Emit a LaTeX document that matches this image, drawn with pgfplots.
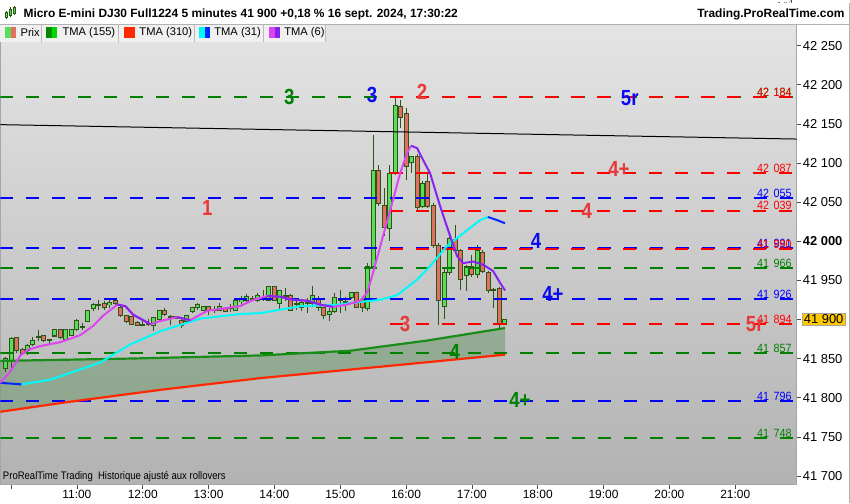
\documentclass[border=0pt]{standalone}
\usepackage{pgfplots}
\pgfplotsset{compat=1.18}
\usepackage{pgfplotstable}
\usepackage{fontspec}
\setmainfont{Liberation Sans}

\definecolor{bgtop}{RGB}{228,228,228}
\definecolor{bgbot}{RGB}{178,178,178}
\definecolor{wick}{RGB}{45,85,20}
\definecolor{upc}{RGB}{88,222,88}
\definecolor{dnc}{RGB}{226,112,98}
\definecolor{lvred}{RGB}{255,0,0}
\definecolor{lvblue}{RGB}{0,0,255}
\definecolor{lvgreen}{RGB}{0,128,0}
\definecolor{lbred}{RGB}{232,56,56}
\definecolor{lbblue}{RGB}{10,10,240}
\definecolor{tma155}{RGB}{25,140,25}
\definecolor{tma310}{RGB}{255,40,0}
\definecolor{tmacyan}{RGB}{0,250,250}
\definecolor{tmablue}{RGB}{0,40,255}
\definecolor{tmamag}{RGB}{220,70,240}
\definecolor{tmapur}{RGB}{136,34,238}
\definecolor{pricebox}{RGB}{255,200,0}
\definecolor{band}{RGB}{0,105,0}

\newcommand{\fs}[1]{\fontsize{#1}{#1}\selectfont}
\newcommand{\pl}[2]{\scalebox{0.9}[1]{#1\hspace{5bp}#2}}

% 5-minute bars, t in minutes after midnight
\pgfplotstableread{
t o h l c
595 41838 41852 41833 41850
600 41848 41877 41836 41875
605 41877 41878 41857 41860
610 41861 41864 41855 41857
615 41860 41868 41854 41866
620 41868 41877 41866 41873
625 41877 41886 41873 41878
630 41879 41880 41871 41873
635 41874 41875 41868 41874
640 41879 41888 41878 41887
645 41887 41888 41875 41877
650 41874 41888 41873 41887
655 41880 41888 41879 41887
660 41887 41900 41885 41898
665 41891 41896 41887 41890
670 41898 41912 41897 41911
675 41914 41921 41911 41919
680 41919 41925 41912 41918
685 41920 41924 41912 41916
690 41919 41926 41915 41921
695 41924 41928 41919 41920
700 41915 41919 41903 41905
705 41905 41906 41896 41897
710 41903 41905 41893 41894
715 41896 41898 41891 41893
720 41893 41900 41891 41892
725 41894 41900 41891 41895
730 41893 41903 41885 41902
735 41900 41912 41898 41911
740 41912 41915 41905 41906
745 41903 41906 41893 41904
750 41903 41905 41900 41902
755 41898 41901 41889 41893
760 41898 41906 41897 41905
765 41910 41916 41908 41915
770 41915 41921 41912 41919
775 41912 41917 41911 41916
780 41916 41917 41906 41912
785 41912 41917 41908 41913
790 41912 41921 41911 41916
795 41914 41915 41910 41911
800 41915 41920 41910 41914
805 41912 41925 41911 41924
810 41923 41930 41919 41925
815 41924 41933 41921 41929
820 41926 41930 41924 41927
825 41924 41934 41922 41930
830 41928 41938 41924 41927
835 41925 41943 41924 41942
840 41942 41943 41924 41925
845 41921 41938 41912 41937
850 41930 41940 41924 41931
855 41931 41933 41911 41912
860 41920 41924 41912 41919
865 41916 41926 41911 41921
870 41920 41928 41908 41921
875 41921 41943 41916 41931
880 41926 41930 41911 41915
885 41915 41916 41900 41905
890 41906 41915 41898 41910
895 41911 41934 41908 41928
900 41925 41938 41908 41926
905 41923 41929 41911 41922
910 41928 41935 41926 41934
915 41934 41935 41914 41915
920 41925 41926 41910 41915
925 41914 41972 41911 41968
930 41968 42136 41961 42090
935 42090 42097 42045 42048
940 42046 42068 42007 42018
945 42016 42097 42000 42087
950 42087 42184 42085 42173
955 42172 42180 42145 42158
960 42163 42170 42078 42096
965 42101 42109 42087 42108
970 42108 42112 42040 42043
975 42045 42077 42043 42074
980 42076 42087 42043 42044
985 42046 42049 41991 41995
990 41995 41998 41893 41925
995 41917 41966 41900 41960
1000 41960 42007 41957 42003
1005 42002 42021 41985 41988
1010 41988 41990 41938 41951
1015 41956 41970 41937 41967
1020 41967 41983 41954 41957
1025 41957 41995 41953 41988
1030 41985 41989 41960 41962
1035 41960 41962 41934 41937
1040 41938 41940 41915 41937
1045 41939 41942 41889 41894
1050 41894 41901 41893 41900
}\candles

\begin{document}
\begin{tikzpicture}
\fill[white] (0,-18bp) rectangle (850bp,482bp);
\begin{axis}[
    at={(0,0)}, anchor=south west,
    scale only axis, width=797bp, height=461bp,
    xmin=590.3, xmax=1316, ymin=41688.8, ymax=42277.5,
    axis background/.style={top color=bgtop, bottom color=bgbot},
    axis line style={draw=gray!70, line width=0.8bp},
    xtick={600,660,720,780,840,900,960,1020,1080,1140,1200,1260},
    xticklabels={,11:00,12:00,13:00,14:00,15:00,16:00,17:00,18:00,19:00,20:00,21:00},
    ytick={41700,41750,41800,41850,41900,41950,42000,42050,42100,42150,42200,42250},
    yticklabels={41 700,41 750,41 800,41 850,41 900,41 950,\textbf{42 000},42 050,42 100,42 150,42 200,42 250},
    xtick pos=left, ytick pos=right, yticklabel pos=right,
    tick align=outside, major tick length=4bp,
    tick style={draw=black!70, line width=0.6bp},
    xticklabel style={font=\fs{12}, inner sep=1bp},
    yticklabel style={font=\fs{13}, inner sep=2bp},
]

% band between TMA(155) and TMA(310)
\addplot[fill=band, fill opacity=0.24, draw=none, forget plot] coordinates {
(590.3,41847) (708.7,41850) (827.1,41854) (909,41860) (979.1,41873) (1050.2,41889)
(1050.2,41855) (954.6,41842) (827.1,41825) (736,41810) (649.5,41794) (590.3,41782)} -- cycle;

% candles: wicks, body outline, body fill
\addplot[draw=none, forget plot, error bars/.cd, y dir=plus, y explicit, error mark=none,
    error bar style={draw=wick, line width=1bp}]
    table[x=t, y=l, y error expr=\thisrow{h}-\thisrow{l}] {\candles};
\addplot[draw=none, forget plot, error bars/.cd, y dir=both, y explicit, error mark=none,
    error bar style={draw=wick, line width=5bp}]
    table[x=t, y expr=(\thisrow{o}+\thisrow{c})/2, y error expr=abs(\thisrow{c}-\thisrow{o})/2+0.8] {\candles};
\addplot[draw=none, forget plot, restrict expr to domain={\thisrow{c}-\thisrow{o}}{0.5:1000},
    error bars/.cd, y dir=both, y explicit, error mark=none,
    error bar style={draw=upc, line width=3bp}]
    table[x=t, y expr=(\thisrow{o}+\thisrow{c})/2, y error expr=abs(\thisrow{c}-\thisrow{o})/2-0.5] {\candles};
\addplot[draw=none, forget plot, restrict expr to domain={\thisrow{c}-\thisrow{o}}{-1000:-0.5},
    error bars/.cd, y dir=both, y explicit, error mark=none,
    error bar style={draw=dnc, line width=3bp}]
    table[x=t, y expr=(\thisrow{o}+\thisrow{c})/2, y error expr=abs(\thisrow{c}-\thisrow{o})/2-0.5] {\candles};

% level lines
\pgfplotsset{lvl/.style={line width=2bp, dash pattern=on 13bp off 13bp, forget plot}}
\addplot[lvl, lvgreen] coordinates {(590.3,42184) (1316,42184)};
\addplot[lvl, lvred] coordinates {(945,42184) (1316,42184)};
\addplot[lvl, lvred] coordinates {(945,42087) (1316,42087)};
\addplot[lvl, lvblue] coordinates {(590.3,42055) (1316,42055)};
\addplot[lvl, lvred] coordinates {(945,42039) (1316,42039)};
\addplot[lvl, lvblue] coordinates {(590.3,41991) (1316,41991)};
\addplot[lvl, lvred] coordinates {(945,41990) (1316,41990)};
\addplot[lvl, lvgreen] coordinates {(590.3,41966) (1316,41966)};
\addplot[lvl, lvblue] coordinates {(590.3,41926) (1316,41926)};
\addplot[lvl, lvred] coordinates {(945,41894) (1316,41894)};
\addplot[lvl, lvgreen] coordinates {(590.3,41857) (1316,41857)};
\addplot[lvl, lvblue] coordinates {(590.3,41796) (1316,41796)};
\addplot[lvl, lvgreen] coordinates {(590.3,41748) (1316,41748)};

% TMA(155), TMA(310)
\addplot[tma155, line width=2.2bp] coordinates {
(590.3,41847) (708.7,41850) (827.1,41854) (909,41860) (979.1,41873) (1050.2,41889)};
\addplot[tma310, line width=2.2bp] coordinates {
(590.3,41782) (649.5,41794) (736,41810) (827.1,41825) (954.6,41842) (1050.2,41855)};

% trend line
\addplot[black, line width=1bp] coordinates {(590.3,42149) (1316,42130.6)};

% TMA(31)
\addplot[tmacyan, line width=2bp] coordinates {
(609.5,41817) (635.9,41823) (681.4,41845) (708.7,41868) (736,41885) (772.4,41901)
(808.9,41907) (827.1,41908) (863.5,41917) (899.9,41919) (909,41921) (936.3,41925)
(951.8,41931) (970.1,41951) (981.9,41968) (997.4,41994) (1015.6,42014) (1027.5,42027) (1034.7,42031)};
\addplot[tmablue, line width=2bp] coordinates {(590.3,41819) (609.5,41817)};
\addplot[tmablue, line width=2bp] coordinates {(1034.7,42031) (1042.9,42027) (1050.2,42023)};

% TMA(6)
\addplot[tmamag, line width=2bp, line join=round] coordinates {
(590.3,41819) (599.5,41834) (608.6,41854) (614.9,41861) (626.8,41866) (645,41871)
(663.2,41880) (675,41892) (684.1,41905) (696.9,41919) (704.2,41917) (711.4,41906)
(726.9,41894) (736,41898) (751.5,41903) (763.3,41899) (778.8,41911) (793.4,41914)
(808.9,41917) (820.7,41925) (833.5,41930) (845.3,41929) (857.1,41925) (869.9,41924)
(881.7,41919) (893.5,41916) (906.3,41919) (918.1,41924) (924.5,41934) (930,41960)
(939.1,42007) (948.2,42053) (954.6,42087) (961,42113) (964.6,42122)};
\addplot[tmapur, line width=2bp, line join=round] coordinates {
(696.9,41919) (704.2,41917) (711.4,41906) (726.9,41894)};
\addplot[tmapur, line width=2bp, line join=round] coordinates {
(751.5,41903) (763.3,41899)};
\addplot[tmapur, line width=2bp, line join=round] coordinates {
(833.5,41930) (845.3,41929) (857.1,41925) (869.9,41924) (881.7,41919) (893.5,41916)};
\addplot[tmapur, line width=2bp, line join=round] coordinates {
(964.6,42122) (970.1,42119) (975.5,42104) (981.9,42087) (991,42045) (1000.1,42007)
(1006.5,41981) (1012,41972) (1021.1,41974) (1030.2,41970) (1039.3,41962) (1045.6,41947) (1050.2,41937)};

% right-hand level values
\tikzset{lv/.style={anchor=south east, inner sep=0.5bp, font=\fs{12}}}
\node[lv, text=lvgreen] at (axis cs:1312,42184) {\pl{42}{184}};
\node[lv, text=lvred] at (axis cs:1312,42184) {\pl{42}{184}};
\node[lv, text=lvred] at (axis cs:1312,42087) {\pl{42}{087}};
\node[lv, text=lvblue] at (axis cs:1312,42055) {\pl{42}{055}};
\node[lv, text=lvred] at (axis cs:1312,42039) {\pl{42}{039}};
\node[lv, text=lvblue] at (axis cs:1312,41991) {\pl{41}{991}};
\node[lv, text=lvred] at (axis cs:1312,41990) {\pl{41}{990}};
\node[lv, text=lvgreen] at (axis cs:1312,41966) {\pl{41}{966}};
\node[lv, text=lvblue] at (axis cs:1312,41926) {\pl{41}{926}};
\node[lv, text=lvred] at (axis cs:1312,41894) {\pl{41}{894}};
\node[lv, text=lvgreen] at (axis cs:1312,41857) {\pl{41}{857}};
\node[lv, text=lvblue] at (axis cs:1312,41796) {\pl{41}{796}};
\node[lv, text=lvgreen] at (axis cs:1312,41748) {\pl{41}{748}};

% wave labels
\tikzset{wl/.style={inner sep=0, font=\bfseries\fs{22}}}
\node[wl, text=lvgreen] at (axis cs:853.5,42184) {\scalebox{0.85}[1]{3}};
\node[wl, text=lbblue] at (axis cs:929.1,42187) {\scalebox{0.85}[1]{3}};
\node[wl, text=lbred] at (axis cs:974.6,42191) {\scalebox{0.85}[1]{2}};
\node[wl, text=lbblue] at (axis cs:1163.9,42183) {\scalebox{0.85}[1]{5r}};
\node[wl, text=lbred] at (axis cs:778.8,42043) {\scalebox{0.85}[1]{1}};
\node[wl, text=lbred] at (axis cs:1154,42092) {\scalebox{0.85}[1]{4+}};
\node[wl, text=lbred] at (axis cs:1124.8,42039) {\scalebox{0.85}[1]{4}};
\node[wl, text=lbblue] at (axis cs:1078.4,42000) {\scalebox{0.85}[1]{4}};
\node[wl, text=lbblue] at (axis cs:1093.9,41933) {\scalebox{0.85}[1]{4+}};
\node[wl, text=lbred] at (axis cs:959.1,41894) {\scalebox{0.85}[1]{3}};
\node[wl, text=lbred] at (axis cs:1277.8,41894) {\scalebox{0.85}[1]{5r}};
\node[wl, text=lvgreen] at (axis cs:1004.5,41859) {\scalebox{0.85}[1]{4}};
\node[wl, text=lvgreen] at (axis cs:1063.8,41797) {\scalebox{0.85}[1]{4+}};

\node[anchor=west, inner sep=0, font=\fs{11}] at (rel axis cs:0.003,0.017)
    {\scalebox{0.87}[1]{ProRealTime Trading\ \ Historique ajusté aux rollovers}};

\coordinate (cur) at (axis cs:1316,41900);
\end{axis}

% last price box
\node[anchor=west, fill=pricebox, draw=gray!70, inner xsep=2bp, inner ysep=1.5bp, font=\fs{13}]
    at ([xshift=5bp]cur) {41 900};

% title bar
\fill[white] (0,461bp) rectangle (850bp,482bp);
\draw[gray!60, line width=0.8bp] (0,461bp) -- (850bp,461bp);
\draw[gray!60, line width=0.8bp] (849.6bp,-18bp) -- (849.6bp,482bp);
\draw[wick, line width=0.8bp] (6bp,466bp) -- (6bp,474bp) (10bp,468bp) -- (10bp,478bp) (14bp,470bp) -- (14bp,479bp);
\fill[upc, draw=wick, line width=0.5bp] (4.8bp,467.5bp) rectangle (7.2bp,472.5bp);
\fill[upc, draw=wick, line width=0.5bp] (8.8bp,469.5bp) rectangle (11.2bp,476bp);
\fill[upc, draw=wick, line width=0.5bp] (12.8bp,471.5bp) rectangle (15.2bp,477.5bp);
\node[anchor=west, inner sep=0, font=\bfseries\fs{12}] at (23bp,471bp)
    {Micro E-mini DJ30 Full1224 5 minutes 41 900 +0,18 \% 16 sept. 2024, 17:30:22};
\node[anchor=east, inner sep=0, font=\bfseries\fs{12}] at (845bp,471bp) {Trading.ProRealTime.com};

% legend row
\fill[white!94!black] (0,443bp) rectangle (325bp,460.6bp);
\foreach \sx in {41,118,194,263,325} \draw[gray!55, line width=0.8bp] (\sx bp,443bp) -- (\sx bp,461bp);
\fill[upc] (5bp,447bp) rectangle (10.5bp,458bp);
\fill[dnc] (10.5bp,447bp) rectangle (16bp,458bp);
\fill[green!55!black] (46bp,447bp) rectangle (51.5bp,458bp);
\fill[green!85!black] (51.5bp,447bp) rectangle (57bp,458bp);
\fill[tma310] (124bp,447bp) rectangle (135bp,458bp);
\fill[tmacyan] (199bp,447bp) rectangle (204.5bp,458bp);
\fill[tmablue] (204.5bp,447bp) rectangle (210bp,458bp);
\fill[tmamag] (269bp,447bp) rectangle (274.5bp,458bp);
\fill[tmapur] (274.5bp,447bp) rectangle (280bp,458bp);
\tikzset{lg/.style={anchor=west, inner sep=0, font=\fs{11.2}}}
\node[lg] at (20bp,452.5bp) {Prix};
\node[lg] at (62bp,452.5bp) {TMA (155)};
\node[lg] at (139bp,452.5bp) {TMA (310)};
\node[lg] at (214bp,452.5bp) {TMA (31)};
\node[lg] at (284bp,452.5bp) {TMA (6)};
\end{tikzpicture}
\end{document}
